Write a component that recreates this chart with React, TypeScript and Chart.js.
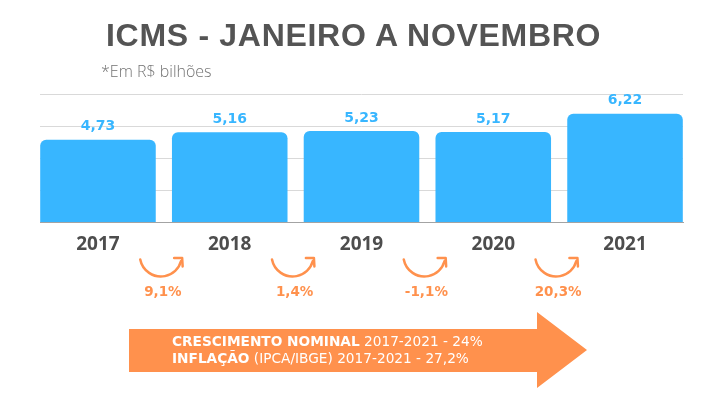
import React, { useEffect, useRef } from "react";
import { Chart, registerables } from "chart.js";

Chart.register(...registerables);

const years = ["2017", "2018", "2019", "2020", "2021"];
const icmsValues = [4.73, 5.16, 5.23, 5.17, 6.22];
const valueLabels = ["4,73", "5,16", "5,23", "5,17", "6,22"];
const growthLabels = ["9,1%", "1,4%", "-1,1%", "20,3%"];

const BLUE = "#38B6FF";
const ORANGE = "#FF914D";

const overlayPlugin = {
  id: "overlay",
  afterDatasetsDraw(chart: any) {
    const ctx = chart.ctx;
    const meta = chart.getDatasetMeta(0);
    const xScale = chart.scales.x;
    const bottom = chart.chartArea.bottom;
    ctx.save();
    // value labels
    ctx.font = "bold 14px 'DejaVu Sans'";
    ctx.fillStyle = BLUE;
    ctx.textAlign = "center";
    ctx.textBaseline = "middle";
    meta.data.forEach((bar: any, i: number) => {
      ctx.fillText(valueLabels[i], bar.x, bar.y - 13);
    });
    // growth arrows + labels
    growthLabels.forEach((lab, i) => {
      const x = xScale.getPixelForValue(i + 0.5);
      const cx = x - 3;
      const cy = bottom + 33;
      const r = 21;
      const a0 = (169 * Math.PI) / 180;
      const a1 = (15 * Math.PI) / 180;
      ctx.strokeStyle = ORANGE;
      ctx.lineWidth = 2.5;
      ctx.lineCap = "round";
      ctx.lineJoin = "round";
      ctx.beginPath();
      ctx.arc(cx, cy, r, a0, a1, true);
      ctx.stroke();
      const ex = cx + r * Math.cos(a1);
      const ey = cy + r * Math.sin(a1);
      const tx = ex + 1;
      const ty = ey - 3;
      ctx.beginPath();
      ctx.moveTo(tx - 8, ty);
      ctx.lineTo(tx, ty);
      ctx.lineTo(tx + 0.5, ty + 8.5);
      ctx.stroke();
      ctx.font = "bold 13.5px 'DejaVu Sans'";
      ctx.fillStyle = ORANGE;
      ctx.fillText(lab, x - 1, bottom + 70);
    });
    ctx.restore();
  },
};

function ChartCanvas() {
  const ref = useRef<HTMLCanvasElement | null>(null);
  useEffect(() => {
    if (!ref.current) return;
    const chart = new Chart(ref.current, {
      type: "bar",
      data: {
        datasets: [
          {
            data: icmsValues.map((v, i) => ({ x: i, y: v })),
            backgroundColor: BLUE,
            borderRadius: 6,
            borderSkipped: "start",
            barPercentage: 0.877,
            categoryPercentage: 1,
          },
        ],
      },
      options: {
        responsive: false,
        animation: false,
        layout: { padding: { left: 40, right: 38, top: 94, bottom: 131.7 } },
        plugins: { legend: { display: false }, tooltip: { enabled: false }, title: { display: false } },
        scales: {
          x: {
            type: "linear",
            offset: false,
            min: -0.44,
            max: 4.44,
            grid: { display: false, drawTicks: false, offset: false },
            border: { display: true, color: "#a3a3a3", width: 1 },
            ticks: {
              stepSize: 1,
              includeBounds: false,
              autoSkip: false,
              maxRotation: 0,
              padding: 11,
              color: "#4d4d4d",
              font: { family: "'Open Sans'", size: 19, weight: "bold" },
              callback: (v: any) => (Number.isInteger(v) && years[v] ? years[v] : ""),
            },
          },
          y: {
            min: 0,
            max: 7.35,
            grid: { color: "#d9d9d9", lineWidth: 1, drawTicks: false },
            border: { display: false },
            ticks: { display: false, stepSize: 1.8375 },
          },
        },
      },
      plugins: [overlayPlugin],
    } as any);
    return () => chart.destroy();
  }, []);
  return (
    <canvas
      ref={ref}
      width={721}
      height={399}
      style={{ position: "absolute", left: 0, top: 0, width: 721, height: 399, display: "block" }}
    />
  );
}

export default function App() {
  return (
    <div
      style={{
        position: "absolute",
        left: 0,
        top: 0,
        width: 721,
        height: 399,
        overflow: "hidden",
        background: "#ffffff",
      }}
    >
      <ChartCanvas />
      <div
        style={{
          position: "absolute",
          left: 106,
          top: 18.5,
          fontFamily: "'Liberation Sans', Arial, sans-serif",
          fontWeight: 700,
          fontSize: 32,
          lineHeight: "32px",
          letterSpacing: "0.7px",
          color: "#545454",
          whiteSpace: "nowrap",
        }}
      >
        ICMS - JANEIRO A NOVEMBRO
      </div>
      <div
        style={{
          position: "absolute",
          left: 101,
          top: 62.5,
          fontFamily: "'Open Sans', sans-serif",
          fontWeight: 300,
          fontSize: 16,
          lineHeight: "16px",
          color: "#737373",
          whiteSpace: "nowrap",
        }}
      >
        *Em R$ bilhões
      </div>
      <div
        style={{
          position: "absolute",
          left: 129,
          top: 312,
          width: 458,
          height: 76,
          background: ORANGE,
          clipPath: "polygon(0px 17px, 408px 17px, 408px 0px, 458px 38px, 408px 76px, 408px 60px, 0px 60px)",
        }}
      />
      <div
        style={{
          position: "absolute",
          left: 172,
          top: 332.5,
          fontFamily: "'DejaVu Sans', sans-serif",
          fontSize: 13.7,
          lineHeight: "17.6px",
          color: "#ffffff",
          whiteSpace: "nowrap",
        }}
      >
        <div>
          <span style={{ fontWeight: 700 }}>CRESCIMENTO NOMINAL</span> 2017-2021 - 24%
        </div>
        <div>
          <span style={{ fontWeight: 700 }}>INFLAÇÃO</span> (IPCA/IBGE) 2017-2021 - 27,2%
        </div>
      </div>
    </div>
  );
}
